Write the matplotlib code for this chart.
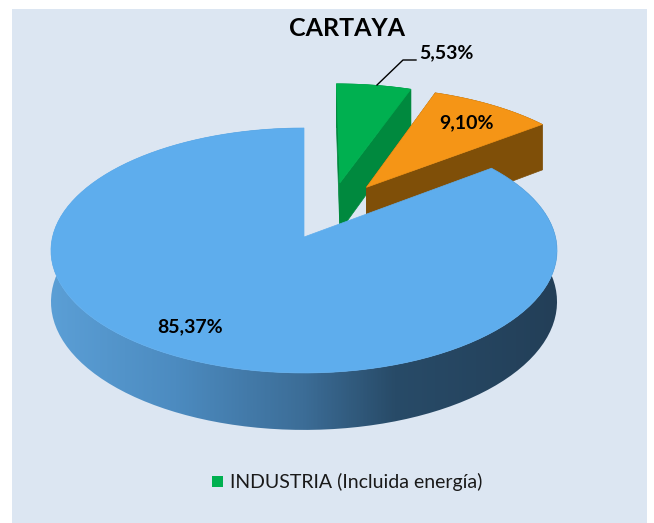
import numpy as np
import matplotlib
matplotlib.use('Agg')
import matplotlib.pyplot as plt
from matplotlib.patches import Polygon, Rectangle
from matplotlib.colors import LinearSegmentedColormap

plt.rcParams['font.family'] = ['Lato', 'DejaVu Sans']

# slice shares (%), clockwise from 12 o'clock
shares = [5.53, 9.10, 85.37]
top_colors = ['#00B050', '#F59516', '#5EADED']
side_colors = ['#00893E', '#7F4F08', None]
legend_label = 'INDUSTRIA (Incluida energía)'
title = 'CARTAYA'

# explosion offsets in disc units (u to the right, v towards the viewer)
explode = [(0.15, -0.47), (0.26, -0.43), (0.0, 0.0)]

# projection of the unit disc onto the canvas (pixels)
CX, CY = 304, 237
A, B = 251.5, 121.0
E = -0.11
DEPTH = 50.7

BG = '#DCE6F2'


def proj(u, v, z=0.0):
    w = 1 + E * v
    return CX + A * u / w, CY + B * v / w + z * DEPTH / w


def arc(t0, t1, off, z=0.0, n=120):
    th = np.radians(np.linspace(t0, t1, n))
    u = np.sin(th) + off[0]
    v = -np.cos(th) + off[1]
    x, y = proj(u, v, z)
    return np.column_stack([x, y])


fig = plt.figure(figsize=(6.54, 5.23), dpi=100)
ax = fig.add_axes([0, 0, 1, 1])
ax.set_xlim(0, 654)
ax.set_ylim(523, 0)
ax.axis('off')
fig.patch.set_facecolor('white')
ax.add_patch(Rectangle((12, 9), 635, 520, facecolor=BG, edgecolor='none', zorder=0))

angles = np.concatenate([[0], np.cumsum(shares) / 100 * 360])
side_cmap = LinearSegmentedColormap.from_list(
    'side', [(0.0, '#5B9FD6'), (0.25, '#4C8BC0'), (0.5, '#3C6D97'),
             (0.68, '#284B68'), (1.0, '#233F58')])

z = 1
for i, (t0, t1) in enumerate(zip(angles[:-1], angles[1:])):
    off = explode[i]
    top = arc(t0, t1, off)
    bot = arc(t0, t1, off, z=1)
    ax_, ay_ = proj(off[0], off[1])
    bx_, by_ = proj(off[0], off[1], 1)

    # outer wall
    wall = np.vstack([top, bot[::-1]])
    if side_colors[i] is None:
        wp = Polygon(wall, closed=True, facecolor='none', edgecolor='none', zorder=z)
        ax.add_patch(wp)
        grad = np.linspace(0, 1, 400).reshape(1, -1)
        im = ax.imshow(grad, cmap=side_cmap, aspect='auto',
                       extent=(48, 558, 523, 0), zorder=z, interpolation='bilinear')
        im.set_clip_path(wp)
    else:
        ax.add_patch(Polygon(wall, closed=True, facecolor=side_colors[i],
                             edgecolor=side_colors[i], lw=0.5, zorder=z))
    z += 1

    # radial faces
    if side_colors[i] is not None:
        for t in (t0, t1):
            ox, oy = arc(t, t, off, n=1)[0]
            ox2, oy2 = arc(t, t, off, z=1, n=1)[0]
            face = [(ax_, ay_), (ox, oy), (ox2, oy2), (bx_, by_)]
            ax.add_patch(Polygon(face, closed=True, facecolor=side_colors[i],
                                 edgecolor=side_colors[i], lw=0.5, zorder=z))
            z += 1

    # top face
    topface = np.vstack([[(ax_, ay_)], top])
    ax.add_patch(Polygon(topface, closed=True, facecolor=top_colors[i],
                         edgecolor=top_colors[i], lw=0.5, zorder=z))
    z += 1


def fmt(p):
    return f'{p:.2f}'.replace('.', ',') + '%'


ax.text(347, 28, title, ha='center', va='center', fontsize=18,
        fontweight='bold', color='black', zorder=50)

label_pos = [(446, 53), (467, 123), (190, 327)]
for p, (lx, ly) in zip(shares, label_pos):
    ax.text(lx, ly, fmt(p), ha='center', va='center', fontsize=14,
            fontweight='bold', color='black', zorder=50)

# leader line for the small slice
ax.plot([377, 403, 416], [85, 60, 60], color='black', lw=1.0, zorder=49)

# legend
ax.add_patch(Rectangle((212, 476), 11, 11, facecolor=top_colors[0],
                       edgecolor='none', zorder=50))
ax.text(230, 482, legend_label, ha='left', va='center', fontsize=14,
        color='#1A1A1A', zorder=50)

fig.savefig('out.png', dpi=100, facecolor='white')
